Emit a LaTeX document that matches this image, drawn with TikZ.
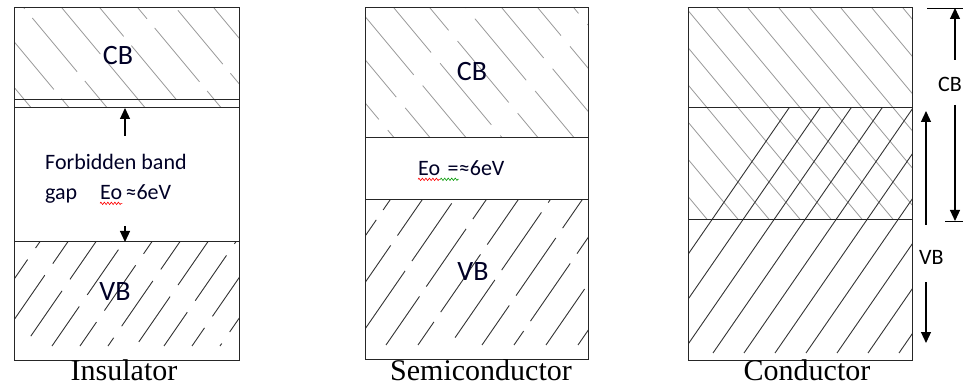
\documentclass[tikz,border=0pt]{standalone}
\usepackage{fontspec}
\setmainfont{Liberation Serif}
\newfontfamily\calfont{Carlito}
\usetikzlibrary{arrows.meta,positioning,decorations.pathmorphing}
\tikzset{
bandedge/.style={draw=black!85,line width=1pt},
cbhatch/.style={draw=black!40,line width=0.8pt},
vbhatch/.style={draw=black!80,line width=0.9pt},
bandlabel/.style={font=\calfont\fontsize{28}{30}\selectfont,text=black!85!blue,inner sep=0pt},
gaplabel/.style={font=\calfont\fontsize{22}{24}\selectfont,text=black!85!blue,inner sep=0pt},
sidelabel/.style={font=\calfont\fontsize{22}{24}\selectfont,inner sep=0pt,anchor=west},
matlabel/.style={font=\fontsize{30}{32}\selectfont,inner sep=0pt,anchor=base},
gaparr/.style={-{Triangle[length=11pt,width=10pt]},line width=1.2pt},
spellmark/.style={line width=0.6pt,decorate,decoration={zigzag,segment length=3.5pt,amplitude=1.2pt}}
}
\begin{document}
\begin{tikzpicture}[x=1pt,y=-1pt]
\clip (0,0) rectangle (963,387);
\fill[white] (0,0) rectangle (963,387);

% insulator
\begin{scope}
\clip (14,8) rectangle (239,108);
\foreach \k in {0,...,11}
  \draw[cbhatch,dash pattern=on 70pt off 12pt,dash phase=\k*23pt] (-90+\k*38,8) -- ++(250,300);
\end{scope}
\begin{scope}
\clip (14,242) rectangle (239,346);
\foreach \k in {0,...,13}
  \draw[vbhatch,dash pattern=on 55pt off 14pt,dash phase=\k*19pt] (-60+\k*28,346) -- ++(120,-174);
\end{scope}
\draw[bandedge] (14,8) rectangle (239,360);
\draw[bandedge] (14,100) -- (239,100);
\draw[bandedge] (14,108) -- (239,108);
\draw[bandedge] (14,242) -- (239,242);
\node[bandlabel] (inscb) at (118,56) {CB};
\node[bandlabel] (insvb) at (115,292) {VB};
\node[gaplabel,anchor=base west] (insforb) at (45,170) {Forbidden band};
\node[gaplabel,anchor=base west] (insgap) at (45,200) {gap};
\node[gaplabel,anchor=base west] (inseo) at (100,200) {Eo};
\node[gaplabel,anchor=base west] (insev) at ([xshift=3pt]inseo.base east) {≈6eV};
\draw[spellmark,red] ([yshift=-3pt]inseo.south west) -- ([yshift=-3pt]inseo.south east);
\coordinate (insup) at (125,136);
\coordinate (inscbedge) at (125,108);
\coordinate (insdown) at (125,226);
\coordinate (insvbedge) at (125,242);
\draw[gaparr] (insup) -- (inscbedge);
\draw[gaparr] (insdown) -- (insvbedge);
\node[matlabel] (insname) at (124,380) {Insulator};

% semiconductor
\begin{scope}
\clip (365,8) rectangle (588,138);
\foreach \k in {0,...,12}
  \draw[cbhatch,dash pattern=on 80pt off 14pt,dash phase=\k*29pt] (250+\k*36,8) -- ++(250,300);
\end{scope}
\begin{scope}
\clip (365,200) rectangle (588,345);
\foreach \k in {0,...,14}
  \draw[vbhatch,dash pattern=on 70pt off 12pt,dash phase=\k*31pt] (290+\k*32,345) -- ++(160,-232);
\end{scope}
\draw[bandedge] (365,8) rectangle (588,359);
\draw[bandedge] (365,138) -- (588,138);
\draw[bandedge] (365,200) -- (588,200);
\node[bandlabel] (semcb) at (472,72) {CB};
\node[bandlabel] (semvb) at (473,272) {VB};
\node[gaplabel,anchor=base west] (semeo) at (418,176) {Eo};
\node[gaplabel,anchor=base west] (semeq) at ([xshift=7pt]semeo.base east) {=};
\node[gaplabel,anchor=base west] (semev) at (semeq.base east) {≈6eV};
\draw[spellmark,red] ([yshift=-3pt]semeo.south west) -- ([yshift=-3pt]semeo.south east);
\draw[spellmark,green!60!black] ([yshift=-3pt]semeo.south east) -- ([yshift=-3pt]semeq.south east);
\node[matlabel] (semname) at (481,380) {Semiconductor};

% conductor
\begin{scope}
\clip (688,8) rectangle (912,220);
\foreach \k in {0,...,14}
  \draw[cbhatch] (500+\k*31,8) -- ++(250,300);
\end{scope}
\begin{scope}
\clip (688,108) rectangle (912,353);
\foreach \k in {0,...,16}
  \draw[vbhatch] (620+\k*31,353) -- ++(180,-261);
\end{scope}
\draw[bandedge] (688,8) rectangle (912,360);
\draw[bandedge] (688,108) -- (912,108);
\draw[bandedge] (688,220) -- (912,220);
\node[matlabel] (condname) at (807,380) {Conductor};

% conductor overlap arrows
\coordinate (cbtop) at (955,8);
\coordinate (cbbot) at (955,221);
\coordinate (cbtopext) at (927,8);
\coordinate (cbbotext) at (945,221);
\coordinate (edgetop) at (963,8);
\coordinate (edgebot) at (963,221);
\draw[line width=0.9pt] (cbtopext) -- (edgetop);
\draw[line width=0.9pt] (cbbotext) -- (edgebot);
\node[sidelabel,anchor=east] (condcb) at (962,84) {CB};
\coordinate (cbupstart) at (955,60);
\coordinate (cbdownstart) at (955,105);
\draw[gaparr] (cbupstart) -- (cbtop);
\draw[gaparr] (cbdownstart) -- (cbbot);
\coordinate (vbtop) at (926,111);
\coordinate (vbbot) at (926,343);
\coordinate (vbupstart) at (926,225);
\coordinate (vbdownstart) at (926,282);
\node[sidelabel] (condvb) at (919,257) {VB};
\draw[gaparr] (vbupstart) -- (vbtop);
\draw[gaparr] (vbdownstart) -- (vbbot);
\end{tikzpicture}
\end{document}
